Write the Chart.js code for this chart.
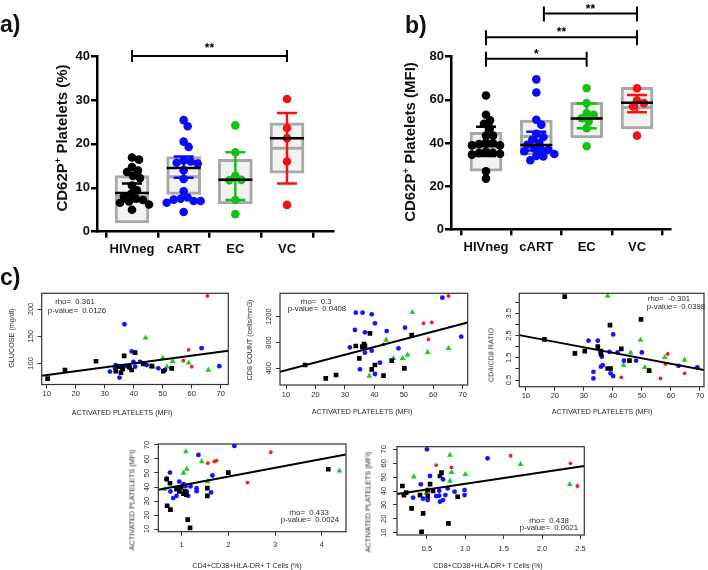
<!DOCTYPE html>
<html>
<head>
<meta charset="utf-8">
<script src="https://cdn.jsdelivr.net/npm/chart.js@4.4.0/dist/chart.umd.min.js"></script>
<style>
  body { margin: 0; background: #fff; }
  #wrap { position: relative; width: 708px; height: 570px; overflow: hidden; font-family: "Liberation Sans", Arial, sans-serif; }
  canvas { position: absolute; left: 0; top: 0; }
  .t { position: absolute; white-space: pre; line-height: 1; }
  .panel { font-weight: bold; font-size: 23px; color: #111; }
  .rot { transform: translate(-50%, -50%) rotate(-90deg); }
  .ctr { transform: translate(-50%, -50%); }
  .abt { font-weight: bold; font-size: 15px; color: #111; }
  .abt sup { font-size: 0.62em; vertical-align: baseline; position: relative; top: -0.6em; }
  .ct { font-size: 7.2px; color: #2a2a2a; }
  .rho { font-size: 7.8px; color: #2a2a2a; }
</style>
</head>
<body>
<div id="wrap">
  <canvas id="chA" width="708" height="570"></canvas>
  <canvas id="chB" width="708" height="570"></canvas>
  <canvas id="chC1" width="708" height="570"></canvas>
  <canvas id="chC2" width="708" height="570"></canvas>
  <canvas id="chC3" width="708" height="570"></canvas>
  <canvas id="chC4" width="708" height="570"></canvas>
  <canvas id="chC5" width="708" height="570"></canvas>

  <div class="t panel" style="left:0px;top:13px">a)</div>
  <div class="t panel" style="left:405px;top:14px">b)</div>
  <div class="t panel" style="left:0px;top:266px">c)</div>

  <div class="t abt rot" style="left:62px;top:138px">CD62P<sup>+</sup> Platelets (%)</div>
  <div class="t abt rot" style="left:410px;top:142px">CD62P<sup>+</sup> Platelets (MFI)</div>

  <div class="t ct rot" style="left:12px;top:338px">GLUCOSE (mg/dl)</div>
  <div class="t ct ctr" style="left:122px;top:413px">ACTIVATED PLATELETS (MFI)</div>
  <div class="t rho ctr" style="left:75px;top:302px">rho=  0.361</div>
  <div class="t rho ctr" style="left:77px;top:311px">p-value=  0.0126</div>

  <div class="t ct rot" style="left:250px;top:340px">CD8 COUNT (cells/mm3)</div>
  <div class="t ct ctr" style="left:362px;top:412px">ACTIVATED PLATELETS (MFI)</div>
  <div class="t rho ctr" style="left:316px;top:302px">rho=  0.3</div>
  <div class="t rho ctr" style="left:317px;top:309px">p-value=  0.0408</div>

  <div class="t ct rot" style="left:491px;top:355px">CD4/CD8 RATIO</div>
  <div class="t ct ctr" style="left:602px;top:412px">ACTIVATED PLATELETS (MFI)</div>
  <div class="t rho ctr" style="left:669px;top:299px">rho=  -0.301</div>
  <div class="t rho ctr" style="left:676px;top:307px">p-value=  0.0398</div>

  <div class="t ct rot" style="left:132px;top:500px">ACTIVATED PLATELETS (MFI)</div>
  <div class="t ct ctr" style="left:247px;top:566px">CD4+CD38+HLA-DR+ T Cells (%)</div>
  <div class="t rho ctr" style="left:309px;top:513px">rho=  0.433</div>
  <div class="t rho ctr" style="left:310px;top:520px">p-value=  0.0024</div>

  <div class="t ct rot" style="left:368px;top:502px">ACTIVATED PLATELETS (MFI)</div>
  <div class="t ct ctr" style="left:488px;top:566px">CD8+CD38+HLA-DR+ T Cells (%)</div>
  <div class="t rho ctr" style="left:549px;top:521px">rho=  0.438</div>
  <div class="t rho ctr" style="left:549px;top:528px">p-value=  0.0021</div>
</div>

<script>
const FONT = '"Liberation Sans", Arial, sans-serif';

const groupNames = ['HIVneg', 'cART', 'EC', 'VC'];
const dotColors = ['#000000', '#0b0bf5', '#14c214', '#f01414'];
const rColors = ['#000000', '#1414ff', '#22cc22', '#ff1a1a'];
const rStyles = ['rect', 'circle', 'triangle', 'circle'];
const rSizes = [3.3, 2.4, 3.4, 1.9];

// a) CD62P+ platelets (%)
const pctHIVneg = [16.9, 16.4, 14.7, 13.9, 13.6, 12.7, 12.2, 10.5, 9.4, 8.6, 8.0, 7.5, 7.2, 6.9, 6.6, 6.2, 5.0];
const pctCART = [25.4, 24.0, 20.5, 19.3, 16.2, 16.0, 15.7, 15.5, 14.0, 12.0, 9.2, 7.8, 7.5, 7.3, 7.0, 7.0, 6.6, 4.5];
const pctEC = [24.2, 18.1, 12.7, 11.8, 11.7, 7.2, 4.0];
const pctVC = [30.2, 23.6, 21.3, 16.0, 6.1];
const pctBoxLow = [2.0, 8.5, 6.3, 13.3];
const pctBoxHigh = [12.8, 17.1, 16.5, 24.8];
const pctMedian = [8.0, 12.5, 11.8, 19.0];
const pctMean = [8.8, 14.5, 11.8, 21.3];
const pctErrLow = [7.0, 12.3, 7.2, 11.0];
const pctErrHigh = [11.0, 17.1, 18.1, 27.0];
const pctTicks = [0, 10, 20, 30, 40];
const pctSig = [{ from: 1, to: 4, y: 40, label: '**' }];

// b) CD62P+ platelets (MFI)
const mfiHIVneg = [62.0, 53.1, 50.5, 48.9, 46.9, 43.4, 43.4, 40.2, 40.0, 39.5, 38.9, 38.9, 36.0, 35.4, 35.4, 35.0, 34.6, 26.9, 23.5];
const mfiCART = [69.5, 63.4, 50.8, 48.5, 44.3, 42.8, 41.5, 40.0, 39.2, 37.5, 36.9, 36.9, 36.2, 34.9, 34.0, 33.8, 32.0];
const mfiEC = [65.4, 58.5, 53.8, 53.1, 51.5, 50.0, 46.9, 38.5];
const mfiVC = [65.4, 59.7, 58.5, 56.9, 43.4];
const mfiBoxLow = [27.0, 34.4, 42.3, 46.5];
const mfiBoxHigh = [44.9, 50.6, 58.8, 65.8];
const mfiMedian = [38.0, 43.0, 51.4, 56.5];
const mfiMean = [38.6, 39.1, 51.4, 58.6];
const mfiErrLow = [34.0, 36.5, 46.8, 54.3];
const mfiErrHigh = [47.5, 45.2, 58.3, 62.2];
const mfiTicks = [0, 20, 40, 60, 80];
const mfiSig = [
    { from: 1, to: 3, y: 79, label: '*' },
    { from: 1, to: 4, y: 89, label: '**' },
    { from: 2.15, to: 4, y: 100, label: '**' },
];

// c) correlations, [x, y] per subject
const glucoseHIVneg = [[10.3, 72], [16.3, 88], [27, 104], [33.8, 86], [34.9, 94], [35.6, 83], [36.2, 90], [36.7, 114], [38.5, 93], [39.3, 88], [40.5, 120], [43.3, 99], [46.2, 95], [50.2, 86], [53.1, 91]];
const glucoseCART = [[31.8, 85], [33.8, 97], [33.5, 92], [35.1, 74], [36.8, 172], [37, 95], [36, 92], [39.3, 122], [39.9, 103], [40.5, 94], [38.4, 93], [42.2, 103], [44.5, 97], [48.5, 91], [50.8, 88], [63.4, 128], [69.5, 95]];
const glucoseEC = [[38.7, 93], [44.1, 147], [46.2, 95], [46.8, 94], [50, 110], [51.4, 94], [53.4, 104], [58.9, 101], [65.7, 88]];
const glucoseVC = [[43.3, 101], [57.1, 105], [58.9, 125], [60, 94], [65.4, 224]];
const glucoseFit = [71.25, 0.7165];

const cd8HIVneg = [[16.5, 452], [23.5, 245], [27, 297], [33.7, 745], [34.9, 555], [35.9, 735], [36.5, 776], [36.8, 750], [38.5, 941], [39.1, 385], [40.2, 452], [43.1, 287], [45.9, 519], [50.2, 400], [52.7, 915]];
const cd8CART = [[31.7, 725], [33.4, 993], [33.7, 1261], [35.1, 385], [36, 1261], [36.8, 957], [36.8, 642], [39.1, 1235], [39.1, 673], [40.2, 1096], [40.2, 312], [41.9, 488], [44.2, 977], [48.2, 709], [50.4, 1029], [63.1, 1493], [69.5, 890]];
const cd8EC = [[38.3, 281], [44, 838], [46.5, 555], [49.6, 555], [51.3, 606], [52.9, 1266], [58.1, 647], [65.2, 709]];
const cd8VC = [[43.1, 771], [56.7, 1096], [59.5, 1111], [58.4, 848], [65.2, 1519]];
const cd8Fit = [253, 11.94];

const ratioHIVneg = [[16.4, 2.33], [23.4, 4.25], [26.9, 1.7], [30.3, 1.8], [34.8, 2.0], [35.8, 1.8], [35.9, 1.67], [38.2, 1.02], [39, 2.97], [39.2, 1.02], [42.9, 1.9], [45.7, 1.37], [49.7, 3.23], [52.5, 0.92]];
const ratioCART = [[31.6, 2.27], [34.8, 2.27], [33.3, 0.57], [33.3, 0.87], [36.2, 1.55], [35.9, 1.1], [36.5, 1.17], [38.8, 1.77], [39.2, 0.8], [40.1, 2.55], [40.1, 0.68], [41.6, 1.74], [43.8, 1.37], [48, 1.37], [50, 1.74], [62.6, 1.14], [69.1, 1.07]];
const ratioEC = [[38.2, 4.28], [43.7, 1.17], [46.1, 1.73], [49.5, 2.3], [51, 1.07], [52.5, 0.92], [57.9, 1.52], [64.7, 1.4]];
const ratioVC = [[42.9, 0.62], [56.4, 0.57], [58.1, 1.22], [58.9, 1.67], [64.7, 0.8]];
const ratioFit = [2.711, -0.02467];

const cd4actHIVneg = [[0.68, 45.6], [0.69, 26.6], [0.75, 42.7], [0.76, 23.8], [0.89, 38.5], [0.95, 36.8], [0.99, 39.7], [1.04, 35.2], [1.07, 36.8], [1.1, 34.5], [1.13, 16.7], [1.18, 10.8], [1.55, 39.2], [1.55, 33.7], [2.0, 50.3], [4.14, 52.7]];
const cd4actCART = [[0.75, 50.3], [0.76, 36.8], [0.82, 32.1], [0.89, 33.7], [0.95, 43.9], [1.04, 42], [1.06, 35.2], [1.08, 40.5], [1.11, 36.8], [1.14, 33.7], [1.19, 40.4], [1.32, 39.2], [1.32, 37], [1.36, 62.9], [1.63, 36.1], [1.66, 48.2], [2.13, 69.3]];
const cd4actEC = [[0.64, 38.5], [0.68, 46.3], [1.04, 49.9], [1.09, 65.3], [1.11, 52.9], [1.43, 58.2], [1.56, 43.9], [4.38, 51.5]];
const cd4actVC = [[1.56, 57], [1.7, 58.2], [1.75, 58.9], [2.41, 43.2], [2.91, 64.8]];
const cd4actFit = [34.86, 6.27];

const cd8actHIVneg = [[0.18, 43.6], [0.2, 37.1], [0.23, 38.8], [0.3, 27.5], [0.41, 37.1], [0.45, 23.9], [0.43, 10.7], [0.51, 40.7], [0.54, 45], [0.58, 40], [0.67, 50.8], [0.69, 53.2], [0.78, 16.7], [0.9, 35.9], [0.51, 36.5]];
const cd8actCART = [[0.32, 35.2], [0.42, 44.8], [0.45, 34.5], [0.5, 70], [0.51, 33.5], [0.54, 50.8], [0.62, 36.4], [0.66, 40.2], [0.66, 36.6], [0.67, 32.3], [0.71, 48.4], [0.71, 33.5], [0.74, 37.1], [0.77, 41.9], [0.86, 39.5], [0.99, 40.7], [0.99, 37.1], [1.29, 63.5]];
const cd8actEC = [[0.33, 50.3], [0.49, 38.8], [0.8, 65.9], [0.82, 53.4], [0.8, 47.2], [1.0, 52], [1.72, 59.2], [2.36, 44.8]];
const cd8actVC = [[0.62, 58.7], [0.82, 57], [1.59, 65.4], [2.37, 59.9], [2.46, 43.6]];
const cd8actFit = [36.89, 8.28];

const mfiAxisTicks = [10, 20, 30, 40, 50, 60, 70];
const glucoseTicks = [100, 150, 200];
const cd8Ticks = [400, 800, 1200];
const ratioTicks = [0.5, 1, 1.5, 2, 2.5, 3, 3.5, 4];
const ratioLabels = ['0.5', '', '1.5', '', '2.5', '', '3.5', ''];
const cd4actTicks = [1, 2, 3, 4];
const cd8actTicks = [0.5, 1, 1.5, 2, 2.5];

// beeswarm placement, done in pixels (dots may overlap a little, like the original)
function swarm(vals, center, rad, pxX, pxY) {
    const placed = [];
    const out = [];
    const order = vals.map((v, i) => i).sort((a, b) => vals[b] - vals[a]);
    for (const i of order) {
        const py = vals[i] * pxY;
        let dx = 0;
        for (let k = 0; k < 400; k++) {
            const cand = k === 0 ? 0 : (k % 2 ? (k + 1) / 2 : -k / 2);
            if (placed.every(p => Math.hypot(p.x - cand, p.y - py) >= 2 * rad * 0.8)) { dx = cand; break; }
        }
        placed.push({ x: dx, y: py });
        out[i] = { x: center + dx / pxX, y: vals[i] };
    }
    return out;
}

const sigPlugin = {
    id: 'sig',
    afterDatasetsDraw(chart, args, o) {
        if (!o || !o.items) return;
        const { ctx, scales: { x, y } } = chart;
        ctx.save();
        ctx.strokeStyle = '#000';
        ctx.lineWidth = 2;
        ctx.fillStyle = '#000';
        ctx.font = 'bold 12px ' + FONT;
        ctx.textAlign = 'center';
        ctx.textBaseline = 'alphabetic';
        o.items.forEach(b => {
            const x0 = x.getPixelForValue(b.from), x1 = x.getPixelForValue(b.to), py = y.getPixelForValue(b.y);
            ctx.beginPath();
            ctx.moveTo(x0, py - o.up); ctx.lineTo(x0, py + o.down);
            ctx.moveTo(x1, py - o.up); ctx.lineTo(x1, py + o.down);
            ctx.moveTo(x0, py); ctx.lineTo(x1, py);
            ctx.stroke();
            ctx.fillText(b.label, (x0 + x1) / 2, py - o.gap);
        });
        ctx.restore();
    }
};

const framePlugin = {
    id: 'rframe',
    afterDraw(chart, args, o) {
        if (!o || !o.yLabels) return;
        const { ctx, chartArea: a, scales: { y } } = chart;
        ctx.save();
        ctx.strokeStyle = '#333';
        ctx.lineWidth = 1.2;
        ctx.strokeRect(a.left, a.top, a.right - a.left, a.bottom - a.top);
        ctx.fillStyle = '#2a2a2a';
        ctx.font = '7.5px ' + FONT;
        ctx.textAlign = 'center';
        ctx.textBaseline = 'middle';
        y.ticks.forEach((t, i) => {
            const lab = o.yLabels[i];
            if (!lab) return;
            ctx.save();
            ctx.translate(a.left - o.gap, y.getPixelForValue(t.value));
            ctx.rotate(-Math.PI / 2);
            ctx.fillText(lab, 0, 0);
            ctx.restore();
        });
        ctx.restore();
    }
};

function groupPanel(id, frame, xRange, yTicks, values, st, sig, sigStyle, boxPx) {
    const pxX = (frame.r - frame.l) / (xRange[1] - xRange[0]);
    const yMin = yTicks[0], yMax = yTicks[yTicks.length - 1];
    const pxY = (frame.b - frame.t) / (yMax - yMin);
    const half = boxPx / 2 / pxX, cap = 10 / pxX, rad = 4.3;
    const seg = (vals, hw) => vals.flatMap((v, i) => [{ x: i + 1 - hw, y: v }, { x: i + 1 + hw, y: v }, { x: i + 1, y: null }]);

    const ds = [];
    ds.push({
        type: 'bar',
        data: st.lo.map((lo, i) => ({ x: i + 1, y: [lo, st.hi[i]] })),
        backgroundColor: '#f2f2f2', borderColor: '#a8a8a8', borderWidth: 3,
        borderSkipped: false, barThickness: boxPx, order: 10,
    });
    ds.push({ type: 'line', data: seg(st.med, half - 0.02), borderColor: '#a8a8a8', borderWidth: 3, pointRadius: 0, order: 9 });
    values.forEach((vals, g) => ds.push({
        type: 'scatter', data: swarm(vals, g + 1, rad, pxX, pxY),
        pointRadius: rad, backgroundColor: dotColors[g], borderWidth: 0, order: 5,
    }));
    values.forEach((vals, g) => {
        const c = g + 1, lo = st.errLo[g], hi = st.errHi[g];
        ds.push({
            type: 'line',
            data: [{ x: c, y: lo }, { x: c, y: hi }, { x: c, y: null },
                   { x: c - cap, y: lo }, { x: c + cap, y: lo }, { x: c, y: null },
                   { x: c - cap, y: hi }, { x: c + cap, y: hi }],
            borderColor: dotColors[g], borderWidth: 2.5, pointRadius: 0, order: 2,
        });
    });
    ds.push({ type: 'line', data: seg(st.mean, half), borderColor: '#000', borderWidth: 2.5, pointRadius: 0, order: 1 });

    const yW = 40, xH = 30;
    new Chart(document.getElementById(id), {
        type: 'scatter',
        data: { datasets: ds },
        options: {
            responsive: false, animation: false, events: [],
            layout: { padding: { left: frame.l - yW, top: frame.t, right: 708 - frame.r, bottom: 570 - frame.b - xH } },
            plugins: { legend: { display: false }, tooltip: { enabled: false }, sig: Object.assign({ items: sig }, sigStyle) },
            scales: {
                x: {
                    type: 'linear', min: xRange[0], max: xRange[1], offset: false,
                    afterBuildTicks: s => { s.ticks = groupNames.map((n, i) => ({ value: i + 1 })); },
                    afterFit: s => { s.height = xH; },
                    ticks: { callback: (v, i) => groupNames[i], font: { family: FONT, size: 13, weight: 'bold' }, color: '#111', padding: 4, maxRotation: 0, autoSkip: false },
                    grid: { display: true, drawOnChartArea: false, drawTicks: true, tickLength: 6, color: '#000', lineWidth: 2.5 },
                    border: { display: true, color: '#000', width: 2.5 },
                },
                y: {
                    type: 'linear', min: yMin, max: yMax,
                    afterBuildTicks: s => { s.ticks = yTicks.map(v => ({ value: v })); },
                    afterFit: s => { s.width = yW; },
                    ticks: { font: { family: FONT, size: 13, weight: 'bold' }, color: '#111', padding: 1 },
                    grid: { display: true, drawOnChartArea: false, drawTicks: true, tickLength: 6, color: '#000', lineWidth: 2.5 },
                    border: { display: true, color: '#000', width: 2.5 },
                },
            },
        },
        plugins: [sigPlugin],
    });
}

function corrPanel(id, frame, xRange, yRange, xTicks, xLabels, yTicks, yLabels, sets, fit, tickPad, gap) {
    const ds = sets.map((pts, g) => ({
        type: 'scatter',
        data: pts.map(p => ({ x: p[0], y: p[1] })),
        pointStyle: rStyles[g], pointRadius: rSizes[g],
        backgroundColor: rColors[g], borderColor: rColors[g], borderWidth: 0, order: 2,
    }));
    ds.push({
        type: 'line', data: xRange.map(x => ({ x: x, y: fit[0] + fit[1] * x })),
        borderColor: '#000', borderWidth: 2, pointRadius: 0, order: 1,
    });
    const yW = 5, xH = 22;
    new Chart(document.getElementById(id), {
        type: 'scatter',
        data: { datasets: ds },
        options: {
            responsive: false, animation: false, events: [],
            layout: { padding: { left: frame.l - yW, top: frame.t, right: 708 - frame.r, bottom: 570 - frame.b - xH } },
            plugins: { legend: { display: false }, tooltip: { enabled: false }, rframe: { yLabels: yLabels, gap: gap } },
            scales: {
                x: {
                    type: 'linear', min: xRange[0], max: xRange[1],
                    afterBuildTicks: s => { s.ticks = xTicks.map(v => ({ value: v })); },
                    afterFit: s => { s.height = xH; },
                    ticks: { callback: (v, i) => xLabels[i], font: { family: FONT, size: 7.5 }, color: '#2a2a2a', padding: tickPad, maxRotation: 0, autoSkip: false },
                    grid: { display: true, drawOnChartArea: false, tickLength: 4, color: '#333', lineWidth: 1 },
                    border: { display: false },
                },
                y: {
                    type: 'linear', min: yRange[0], max: yRange[1],
                    afterBuildTicks: s => { s.ticks = yTicks.map(v => ({ value: v })); },
                    afterFit: s => { s.width = yW; },
                    ticks: { display: false },
                    grid: { display: true, drawOnChartArea: false, tickLength: 4, color: '#333', lineWidth: 1 },
                    border: { display: false },
                },
            },
        },
        plugins: [framePlugin],
    });
}

groupPanel('chA', { l: 97, t: 56, r: 333, b: 231.7 }, [0.3226, 4.89], pctTicks,
    [pctHIVneg, pctCART, pctEC, pctVC],
    { lo: pctBoxLow, hi: pctBoxHigh, med: pctMedian, mean: pctMean, errLo: pctErrLow, errHi: pctErrHigh },
    pctSig, { up: 6, down: 6, gap: 4 }, 34);

groupPanel('chB', { l: 451, t: 56.7, r: 670, b: 229.3 }, [0.3046, 4.656], mfiTicks,
    [mfiHIVneg, mfiCART, mfiEC, mfiVC],
    { lo: mfiBoxLow, hi: mfiBoxHigh, med: mfiMedian, mean: mfiMean, errLo: mfiErrLow, errHi: mfiErrHigh },
    mfiSig, { up: 7, down: 8, gap: 1 }, 32);

const mfiLabels = mfiAxisTicks.map(String);
corrPanel('chC1', { l: 41.7, t: 293.3, r: 228.3, b: 384.5 }, [8.28, 72.6], [61.3, 228.9],
    mfiAxisTicks, mfiLabels, glucoseTicks, glucoseTicks.map(String),
    [glucoseHIVneg, glucoseCART, glucoseEC, glucoseVC], glucoseFit, 1, 11);
corrPanel('chC2', { l: 280, t: 293.3, r: 467.7, b: 385 }, [7.96, 71.7], [142, 1561],
    mfiAxisTicks, mfiLabels, cd8Ticks, cd8Ticks.map(String),
    [cd8HIVneg, cd8CART, cd8EC, cd8VC], cd8Fit, 1, 11);
corrPanel('chC3', { l: 519.3, t: 293.3, r: 707.5, b: 386.7 }, [7.75, 71.4], [0.2, 4.4],
    mfiAxisTicks, mfiLabels, ratioTicks, ratioLabels,
    [ratioHIVneg, ratioCART, ratioEC, ratioVC], ratioFit, 1, 10);
corrPanel('chC4', { l: 158.3, t: 444, r: 346, b: 531.7 }, [0.5, 4.52], [8.1, 70.7],
    cd4actTicks, cd4actTicks.map(String), mfiAxisTicks, mfiLabels,
    [cd4actHIVneg, cd4actCART, cd4actEC, cd4actVC], cd4actFit, 5, 11);
corrPanel('chC5', { l: 397, t: 446.7, r: 584.3, b: 535 }, [0.11, 2.55], [8.35, 71.9],
    cd8actTicks, cd8actTicks.map(v => v.toFixed(1)), mfiAxisTicks, mfiLabels,
    [cd8actHIVneg, cd8actCART, cd8actEC, cd8actVC], cd8actFit, 5, 13);
</script>
</body>
</html>
